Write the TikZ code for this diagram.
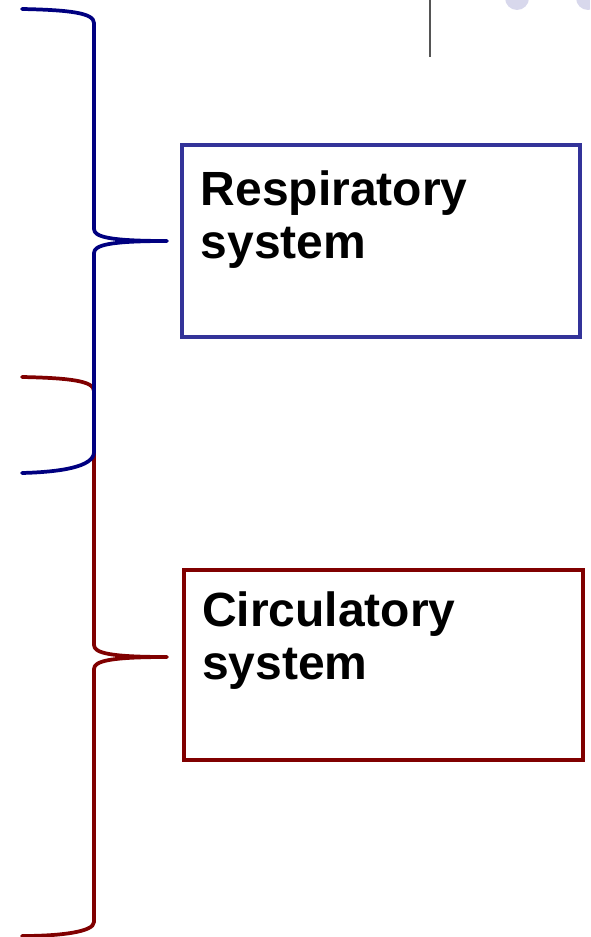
\documentclass[tikz,border=0pt]{standalone}
\usepackage{fontspec}
\setmainfont{Liberation Sans}
\usepackage{tikz}
\usetikzlibrary{positioning}

\definecolor{navyline}{HTML}{000080}
\definecolor{boxblue}{HTML}{333399}
\definecolor{darkred}{HTML}{800000}
\definecolor{lavender}{HTML}{D8D8EC}
\definecolor{slategray}{HTML}{555555}

\tikzset{
    brace/.style={line width=2.8pt, line cap=round, line join=round},
    sysbox/.style={draw, line width=2.4pt, rectangle, inner sep=0pt},
    systext/.style={inner sep=0pt, align=left, font=\bfseries\fontsize{36}{40}\selectfont}
}

\begin{document}
\begin{tikzpicture}[x=0.75pt,y=-0.75pt]
    \useasboundingbox (0,0) rectangle (590,937);
    \clip (0,0) rectangle (590,937);

    % decoration at top
    \fill[lavender] (517,-2) circle (12);
    \fill[lavender] (588,-2) circle (12);
    \draw[slategray, line width=1.6pt] (430,0) -- (430,57);

    % boxes
    \node[sysbox, draw=boxblue, minimum width=298.5pt, minimum height=144pt] (resp) at (381,241) {};
    \node[systext, below right=20pt and 15pt of resp.north west] (resplabel) {Respiratory\\system};
    \node[sysbox, draw=darkred, minimum width=299.25pt, minimum height=142.5pt] (circ) at (383.5,665) {};
    \node[systext, below right=17pt and 14.5pt of circ.north west] (circlabel) {Circulatory\\system};

    % brace ends and tips
    \coordinate (resptop) at (22,9);
    \coordinate (resptip) at (167,241);
    \coordinate (respbot) at (22,473);
    \coordinate (circtop) at (22,377);
    \coordinate (circtip) at (167,657);
    \coordinate (circbot) at (22,936);

    \draw[brace, darkred] (circtop) .. controls (70,378) and (94,381) .. (94,391) -- (94,645)
        .. controls (94,653) and (110,657) .. (circtip)
        .. controls (110,657) and (94,661) .. (94,669) -- (94,922)
        .. controls (94,932) and (60,936) .. (circbot);
    \draw[brace, navyline] (resptop) .. controls (70,10) and (94,13) .. (94,23) -- (94,229)
        .. controls (94,237) and (110,241) .. (resptip)
        .. controls (110,241) and (94,245) .. (94,253) -- (94,452)
        .. controls (94,467) and (60,472) .. (respbot);
\end{tikzpicture}
\end{document}
